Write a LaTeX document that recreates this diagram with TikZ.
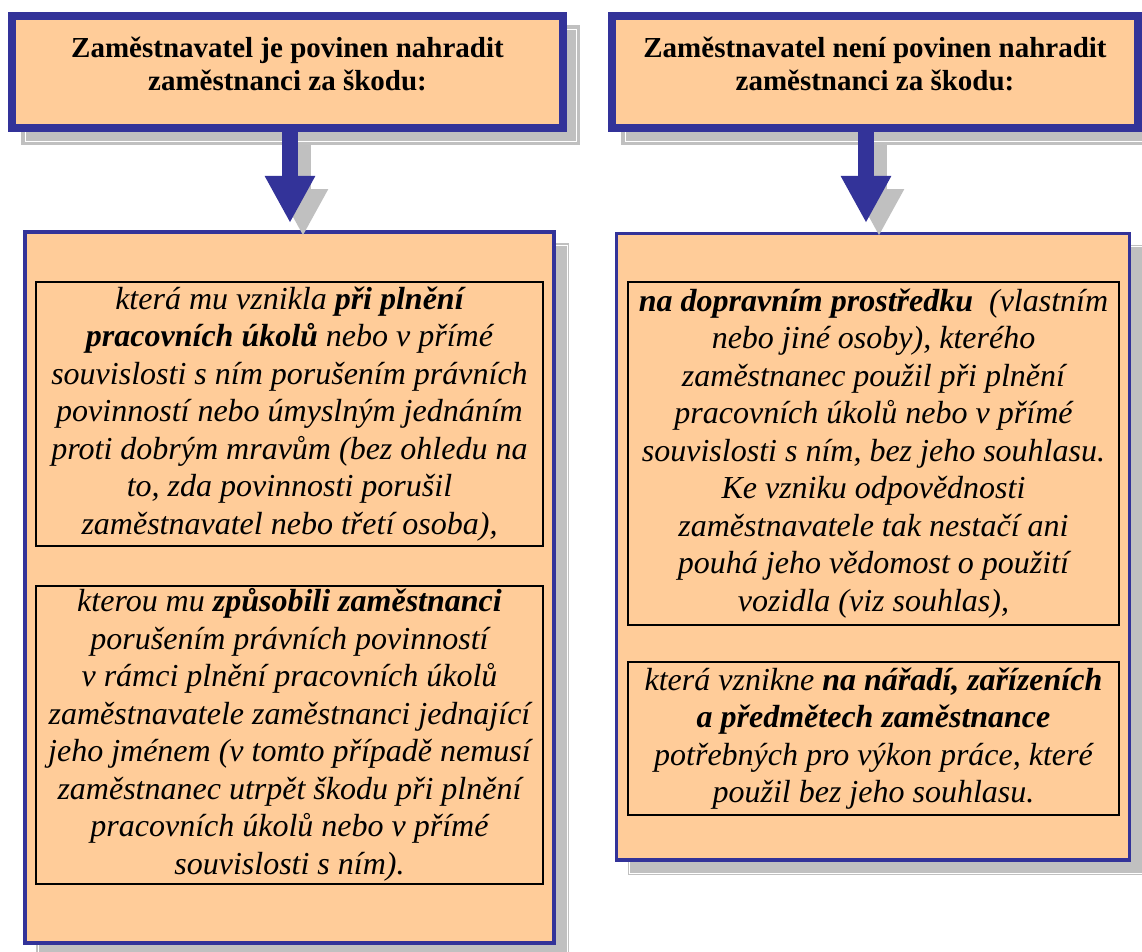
\documentclass[tikz,border=0pt]{standalone}
\usepackage{fontspec}
\setmainfont{Liberation Serif}
\usetikzlibrary{arrows.meta,positioning,shadows}

\definecolor{boxfill}{HTML}{FFCC99}
\definecolor{boxblue}{HTML}{333399}
\definecolor{shadowgray}{HTML}{C0C0C0}

\tikzset{
  headbox/.style={draw=boxblue, line width=8pt, fill=boxfill, inner sep=0pt, minimum height=112pt,
    drop shadow={shadow xshift=13pt, shadow yshift=-13pt, opacity=1, fill=shadowgray,
      draw=shadowgray, double=white, double distance=0.8pt, line width=3.6pt}},
  headtext/.style={align=center, inner sep=0pt, font=\fontsize{29}{33}\selectfont\bfseries},
  bigbox/.style={draw=boxblue, line width=3.5pt, fill=boxfill, inner sep=0pt,
    drop shadow={shadow xshift=13pt, shadow yshift=-13pt, opacity=1, fill=shadowgray,
      draw=shadowgray, double=white, double distance=0.8pt, line width=1.35pt}},
  itembox/.style={draw=black, line width=2pt, inner sep=0pt, align=center,
    font=\fontsize{32}{37.5}\selectfont\itshape},
  downarrow/.style={draw=boxblue, line width=16pt, -{Triangle[width=47pt,length=47pt]}},
  downshadow/.style={downarrow, draw=shadowgray, fill=shadowgray},
}

\begin{document}
\begin{tikzpicture}[x=1pt,y=-1pt]
%%% Page frame
\useasboundingbox (0,0) rectangle (1142,952);
%%% Header boxes
\node[headbox, minimum width=551pt] (hdrL) at (287.5,72) {};
\node[headtext, yshift=8pt] (hdrLtxt) at (hdrL.center) {Zaměstnavatel je povinen nahradit\\zaměstnanci za škodu:};
\node[headbox, minimum width=526pt] (hdrR) at (875,72) {};
\node[headtext, yshift=8pt] (hdrRtxt) at (hdrR.center) {Zaměstnavatel není povinen nahradit\\zaměstnanci za škodu:};
%%% Big boxes
\node[bigbox, minimum width=529pt, minimum height=711pt] (boxL) at (289.5,587.5) {};
\node[bigbox, minimum width=513pt, minimum height=626.5pt] (boxR) at (873,546.75) {};
%%% Left items
\node[itembox, minimum width=507pt, minimum height=263.5pt] (itemL1) at (289.5,413.75)
  {která mu vznikla \textbf{při plnění}\\
   \textbf{pracovních úkolů} nebo v přímé\\
   souvislosti s ním porušením právních\\
   povinností nebo úmyslným jednáním\\
   proti dobrým mravům (bez ohledu na\\
   to, zda povinnosti porušil\\
   zaměstnavatel nebo třetí osoba),};
\node[itembox, minimum width=507pt, minimum height=298pt, below=38.5pt of itemL1] (itemL2)
  {kterou mu \textbf{způsobili zaměstnanci}\\
   porušením právních povinností\\
   v rámci plnění pracovních úkolů\\
   zaměstnavatele zaměstnanci jednající\\
   jeho jménem (v tomto případě nemusí\\
   zaměstnanec utrpět škodu při plnění\\
   pracovních úkolů nebo v přímé\\
   souvislosti s ním).};
%%% Right items
\node[itembox, minimum width=491pt, minimum height=343pt] (itemR1) at (873.5,453.5)
  {\textbf{na dopravním prostředku}\ \ (vlastním\\
   nebo jiné osoby), kterého\\
   zaměstnanec použil při plnění\\
   pracovních úkolů nebo v přímé\\
   souvislosti s ním, bez jeho souhlasu.\\
   Ke vzniku odpovědnosti\\
   zaměstnavatele tak nestačí ani\\
   pouhá jeho vědomost o použití\\
   vozidla (viz souhlas),};
\node[itembox, minimum width=491pt, minimum height=153pt, below=35pt of itemR1] (itemR2)
  {která vznikne \textbf{na nářadí, zařízeních}\\
   \textbf{a předmětech zaměstnance}\\
   potřebných pro výkon práce, které\\
   použil bez jeho souhlasu.};
%%% Heavy arrows with shadows
\coordinate (tipL) at (290,223);
\coordinate (tipR) at (866,223);
\coordinate (baseL) at (hdrL.south -| tipL);
\coordinate (baseR) at (hdrR.south -| tipR);
\draw[downshadow] ([shift={(13,13)}]baseL) -- ([shift={(13,13)}]tipL);
\draw[downshadow] ([shift={(13,13)}]baseR) -- ([shift={(13,13)}]tipR);
\draw[downarrow] (baseL) -- (tipL);
\draw[downarrow] (baseR) -- (tipR);
\end{tikzpicture}
\end{document}
